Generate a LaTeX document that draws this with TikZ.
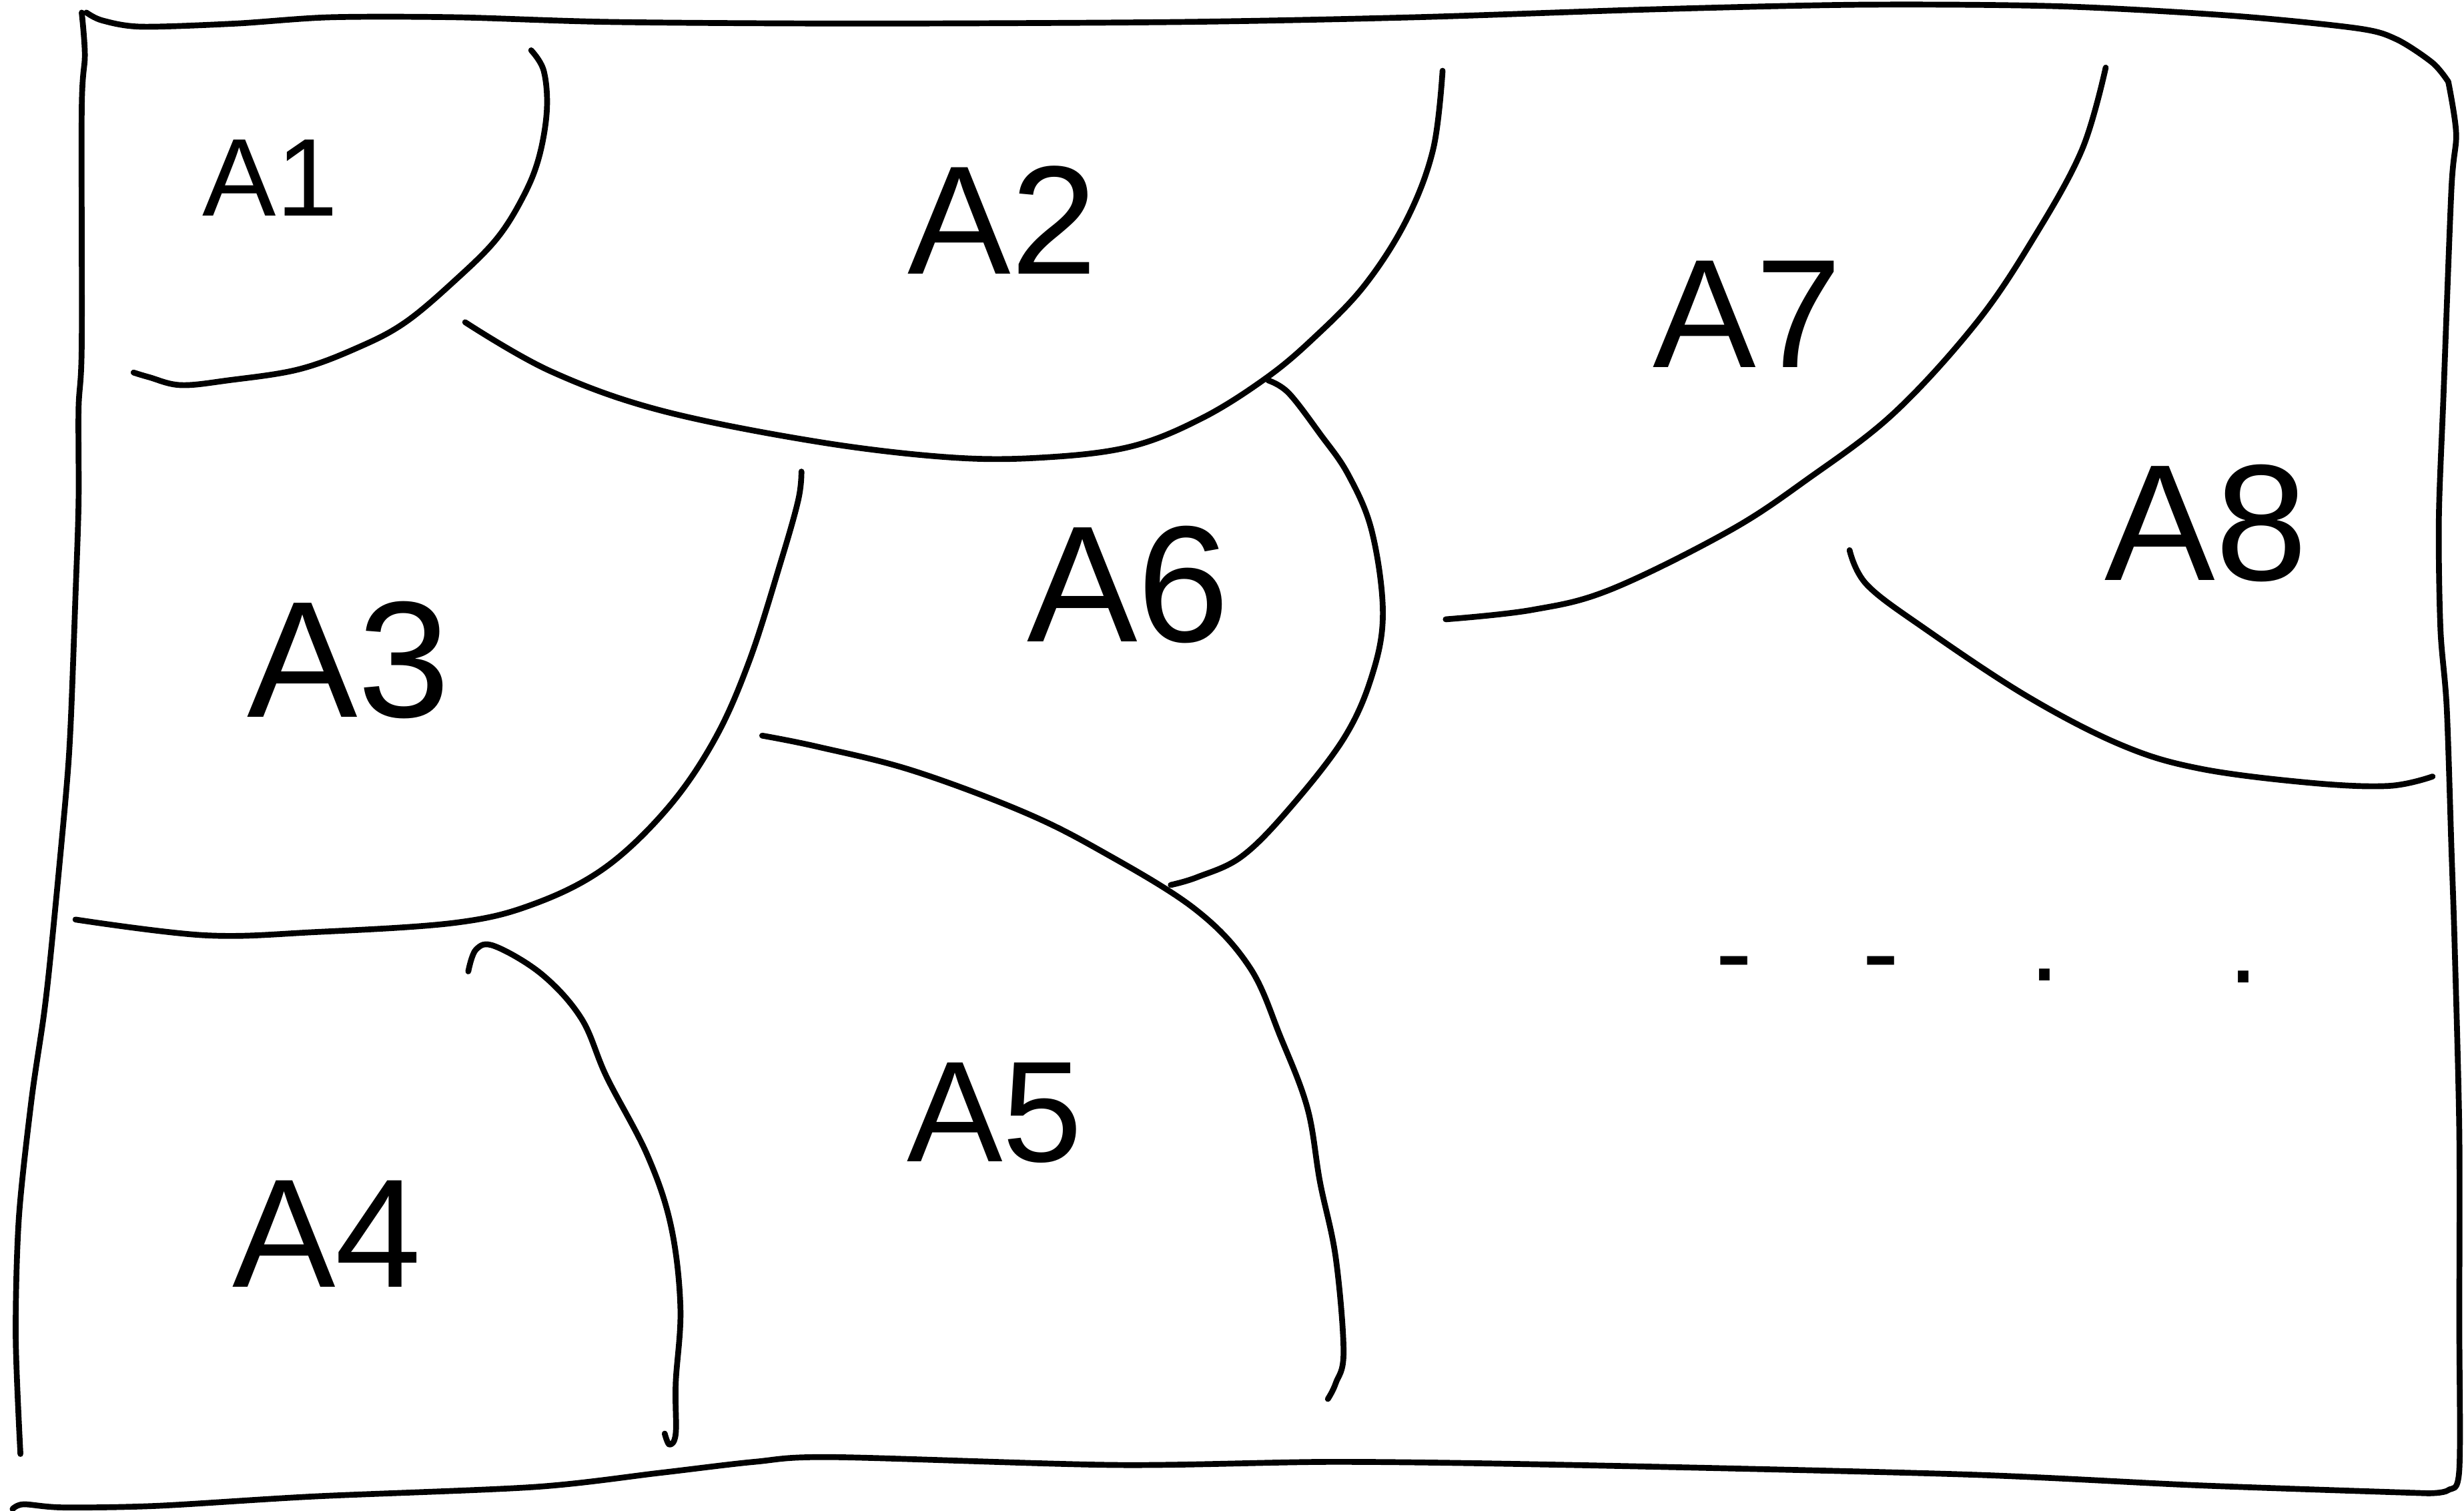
\documentclass[tikz,border=0pt]{standalone}
\usepackage{fontspec}
\setmainfont{Liberation Sans}
\begin{document}
\begin{tikzpicture}[x=0.1mm,y=-0.1mm,
  pen/.style={line width=1.05pt,line cap=round,line join=round},
  region/.style={font=\fontsize{#1}{#1}\selectfont,inner sep=0pt},
  region/.default=28]
\useasboundingbox (0,0) rectangle (1568,961);

% outer frame, drawn freehand in four strokes
\draw[pen] plot[smooth,tension=0.5] coordinates {(55,8) (65,13) (90,17) (150,15) (210,11) (290,11) (390,14) (550,15) (750,14) (900,11) (1050,6) (1185,3) (1310,4) (1420,10) (1500,18) (1525,25) (1548,40) (1558,52)};
\draw[pen] plot[smooth,tension=0.5] coordinates {(1558,52) (1563,85) (1560,120) (1555,250) (1552,330) (1553,400) (1557,450) (1560,540) (1562,600) (1565,720) (1565,840) (1565,935) (1558,948) (1545,950)};
\draw[pen] plot[smooth,tension=0.5] coordinates {(1545,950) (1400,945) (1250,938) (1000,932) (850,930) (710,932) (530,927) (480,930) (420,937) (340,946) (200,952) (100,958) (40,959) (15,957) (8,960)};
\draw[pen] plot[smooth,tension=0.5] coordinates {(13,925) (10,850) (12,775) (20,700) (28,645) (33,600) (42,505) (45,460) (48,380) (50,320) (50,260) (52,220) (52,70) (54,35) (52,8)};

% boundaries between the regions
\draw[pen] plot[smooth,tension=0.6] coordinates {(338,32) (346,45) (348,70) (343,100) (333,125) (316,152) (290,178) (258,205) (228,221) (190,235) (145,242) (115,245) (95,240) (85,237)};
\draw[pen] plot[smooth,tension=0.6] coordinates {(918,45) (912,95) (895,140) (868,182) (835,216) (805,241) (765,266) (720,284) (665,291) (605,291) (520,281) (420,261) (350,236) (296,205)};
\draw[pen] plot[smooth,tension=0.6] coordinates {(510,300) (508,318) (497,357) (477,420) (455,470) (425,514) (385,552) (340,575) (290,587) (200,593) (130,595) (48,585)};
\draw[pen] plot[smooth,tension=0.6] coordinates {(807,242) (820,250) (840,276) (858,302) (873,338) (880,390) (873,430) (855,470) (820,515) (790,545) (762,558) (745,563)};
\draw[pen] plot[smooth,tension=0.6] coordinates {(1340,43) (1325,95) (1295,150) (1258,205) (1205,263) (1150,305) (1100,338) (1025,375) (975,388) (920,394)};
\draw[pen] plot[smooth,tension=0.6] coordinates {(1177,350) (1188,372) (1225,400) (1290,443) (1350,474) (1400,489) (1470,498) (1520,500) (1548,494)};
\draw[pen] plot[smooth,tension=0.6] coordinates {(485,468) (520,475) (580,490) (650,516) (700,541) (760,578) (795,615) (815,660) (832,705) (840,752) (850,800) (855,860) (850,880) (845,890)};
\draw[pen] plot[smooth,tension=0.6] coordinates {(298,618) (303,604) (315,602) (345,620) (370,648) (386,685) (412,735) (427,780) (433,832) (430,880) (430,912) (426,919) (423,912)};

% region labels
\node[region=20] (a1) at (172,113) {A1};
\node[region=28] (a2) at (638,140) {A2};
\node[region=28] (a7) at (1112,200) {A7};
\node[region=30] (a8) at (1404,333) {A8};
\node[region=30] (a3) at (222,420) {A3};
\node[region=30] (a6) at (718,372) {A6};
\node[region=28] (a4) at (208,785) {A4};
\node[region=26] (a5) at (633,708) {A5};
\node[region=20,anchor=base west] (more) at (1091,630)
  {-\hspace{7mm}-\hspace{8.3mm}\raisebox{0.6mm}{.}\hspace{10.7mm}\raisebox{0.5mm}{.}};
\end{tikzpicture}
\end{document}
